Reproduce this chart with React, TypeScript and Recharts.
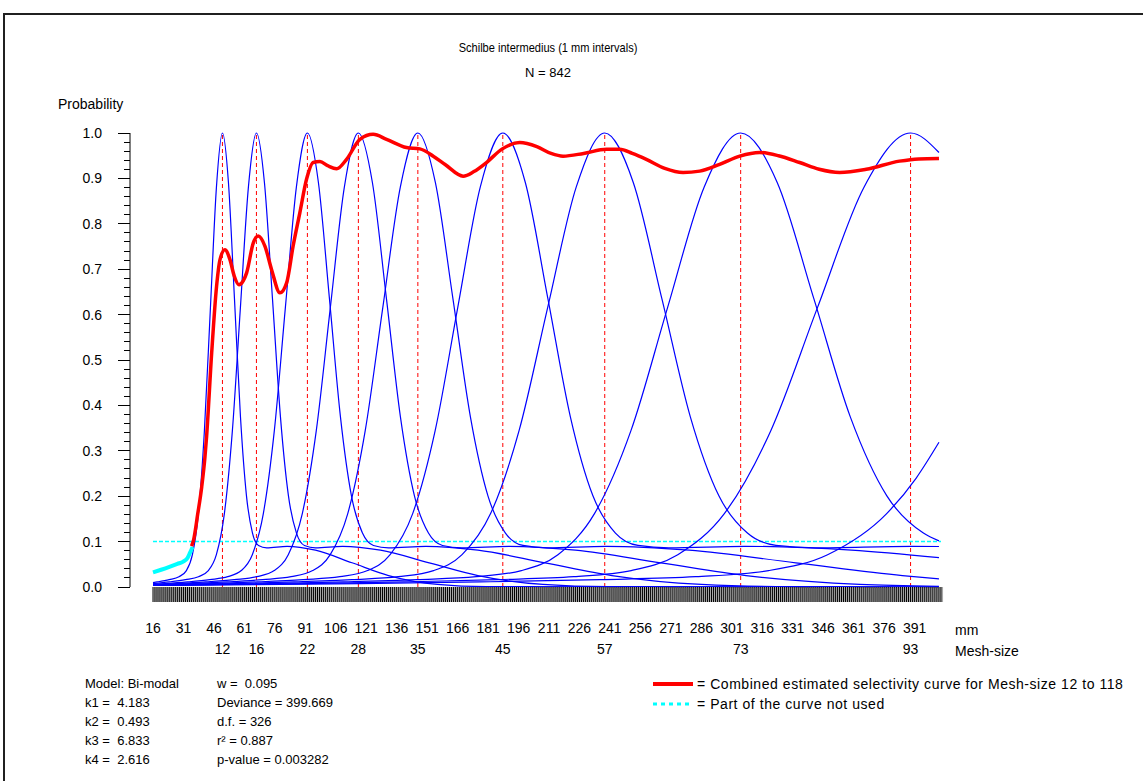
import React from 'react';
import { LineChart, Line, XAxis, YAxis, ReferenceLine } from 'recharts';

// fish length (mm) tick labels and mesh sizes
const lengthLabels = [16, 31, 46, 61, 76, 91, 106, 121, 136, 151, 166, 181, 196, 211, 226, 241, 256, 271, 286, 301, 316, 331, 346, 361, 376, 391];
const meshSizes = [12, 16, 22, 28, 35, 45, 57, 73, 93];
const meshModes = [50.2, 66.93, 92.03, 117.12, 146.41, 188.24, 238.43, 305.36, 389.02];

// one small tick per mm, plus the mesh-size label positions
const lengthTicks: number[] = [];
for (let v = 16; v <= 404; v++) lengthTicks.push(v);
const axisTicks = [...lengthTicks, ...meshModes];
const probTicks = [0, 0.02, 0.04, 0.06, 0.08, 0.1, 0.12, 0.14, 0.16, 0.18, 0.2, 0.22, 0.24, 0.26, 0.28, 0.3, 0.32, 0.34, 0.36, 0.38, 0.4, 0.42, 0.44, 0.46, 0.48, 0.5, 0.52, 0.54, 0.56, 0.58, 0.6, 0.62, 0.64, 0.66, 0.68, 0.7, 0.72, 0.74, 0.76, 0.78, 0.8, 0.82, 0.84, 0.86, 0.88, 0.9, 0.92, 0.94, 0.96, 0.98, 1.0];

// selectivity curve per mesh size: [length mm, probability]
const mesh12 = [[16, 0.0098], [18, 0.0112], [24, 0.0163], [28.8, 0.0227], [32.45, 0.0362], [35.41, 0.0712], [38.36, 0.1617], [41.32, 0.3449], [44.28, 0.6154], [47.24, 0.8807], [50.2, 1.0], [53.15, 0.891], [56.11, 0.6357], [59.07, 0.3748], [62.03, 0.2008], [64.99, 0.1188], [67.94, 0.0915], [72, 0.0862], [82, 0.0896], [96, 0.0811], [114, 0.0533], [132, 0.0252], [156, 0.0056], [180, 0.0007], [403, 0]];
const mesh16 = [[16, 0.0075], [24, 0.0112], [32, 0.0163], [38.4, 0.0227], [43.26, 0.0362], [47.21, 0.0712], [51.15, 0.1617], [55.1, 0.3449], [59.04, 0.6154], [62.98, 0.8807], [66.93, 1.0], [70.87, 0.891], [74.82, 0.6357], [78.76, 0.3748], [82.7, 0.2008], [86.65, 0.1188], [90.59, 0.0915], [96, 0.0862], [109.33, 0.0896], [128, 0.0811], [152, 0.0533], [176, 0.0252], [208, 0.0056], [240, 0.0007], [403, 0]];
const mesh22 = [[16, 0.0059], [22, 0.0075], [33, 0.0112], [44, 0.0163], [52.8, 0.0227], [59.49, 0.0362], [64.91, 0.0712], [70.33, 0.1617], [75.76, 0.3449], [81.18, 0.6154], [86.6, 0.8807], [92.03, 1.0], [97.45, 0.891], [102.87, 0.6357], [108.3, 0.3748], [113.72, 0.2008], [119.14, 0.1188], [124.56, 0.0915], [132, 0.0862], [150.33, 0.0896], [176, 0.0811], [209, 0.0533], [242, 0.0252], [286, 0.0056], [330, 0.0007], [403, 0]];
const mesh28 = [[16, 0.0051], [28, 0.0075], [42, 0.0112], [56, 0.0163], [67.2, 0.0227], [75.71, 0.0362], [82.61, 0.0712], [89.52, 0.1617], [96.42, 0.3449], [103.32, 0.6154], [110.22, 0.8807], [117.12, 1.0], [124.03, 0.891], [130.93, 0.6357], [137.83, 0.3748], [144.73, 0.2008], [151.63, 0.1188], [158.54, 0.0915], [168, 0.0862], [191.32, 0.0896], [224, 0.0811], [266, 0.0533], [308, 0.0252], [364, 0.0056], [403, 0.0014]];
const mesh35 = [[16, 0.0046], [35, 0.0075], [52.5, 0.0112], [70, 0.0163], [84, 0.0227], [94.64, 0.0362], [103.27, 0.0712], [111.9, 0.1617], [120.52, 0.3449], [129.15, 0.6154], [137.78, 0.8807], [146.41, 1.0], [155.03, 0.891], [163.66, 0.6357], [172.29, 0.3748], [180.92, 0.2008], [189.54, 0.1188], [198.17, 0.0915], [210, 0.0862], [239.16, 0.0896], [280, 0.0811], [332.5, 0.0533], [385, 0.0252], [403, 0.0181]];
const mesh45 = [[16, 0.0042], [45, 0.0075], [67.5, 0.0112], [90, 0.0163], [108, 0.0227], [121.68, 0.0362], [132.77, 0.0712], [143.87, 0.1617], [154.96, 0.3449], [166.05, 0.6154], [177.14, 0.8807], [188.24, 1.0], [199.33, 0.891], [210.42, 0.6357], [221.51, 0.3748], [232.61, 0.2008], [243.7, 0.1188], [254.79, 0.0915], [270, 0.0862], [307.49, 0.0896], [360, 0.0811], [403, 0.0645]];
const mesh57 = [[16, 0.0039], [57, 0.0075], [85.5, 0.0112], [114, 0.0163], [136.8, 0.0227], [154.13, 0.0362], [168.18, 0.0712], [182.23, 0.1617], [196.28, 0.3449], [210.33, 0.6154], [224.38, 0.8807], [238.43, 1.0], [252.48, 0.891], [266.53, 0.6357], [280.58, 0.3748], [294.63, 0.2008], [308.68, 0.1188], [322.73, 0.0915], [342, 0.0862], [389.48, 0.0896], [403, 0.0892]];
const mesh73 = [[16, 0.0037], [73, 0.0075], [109.5, 0.0112], [146, 0.0163], [175.2, 0.0227], [197.39, 0.0362], [215.39, 0.0712], [233.38, 0.1617], [251.38, 0.3449], [269.37, 0.6154], [287.36, 0.8807], [305.36, 1.0], [323.35, 0.891], [341.35, 0.6357], [359.34, 0.3748], [377.34, 0.2008], [395.33, 0.1188], [403, 0.1015]];
const mesh93 = [[16, 0.0035], [93, 0.0075], [139.5, 0.0112], [186, 0.0163], [223.2, 0.0227], [251.47, 0.0362], [274.4, 0.0712], [297.32, 0.1617], [320.25, 0.3449], [343.17, 0.6154], [366.09, 0.8807], [389.02, 1.0], [403, 0.957]];
const mesh118 = [[16, 0.0034], [118, 0.0075], [177, 0.0112], [236, 0.0163], [283.2, 0.0227], [319.07, 0.0362], [348.16, 0.0712], [377.25, 0.1617], [391.8, 0.24], [403, 0.3187]];
const meshCurves = [mesh12, mesh16, mesh22, mesh28, mesh35, mesh45, mesh57, mesh73, mesh93, mesh118];

// combined estimated selectivity curve
const combined = [[35, 0.09], [36, 0.104], [38, 0.16], [40, 0.221], [41.6, 0.287], [42.4, 0.332], [44.9, 0.516], [47.3, 0.662], [49, 0.721], [51.4, 0.743], [53.9, 0.721], [56, 0.685], [58.3, 0.666], [60.5, 0.675], [62.1, 0.692], [65.4, 0.758], [67.8, 0.773], [71.1, 0.751], [74.4, 0.699], [78.5, 0.648], [81.8, 0.67], [85, 0.751], [88.3, 0.824], [91.6, 0.898], [94.9, 0.935], [98.2, 0.937], [102, 0.928], [106.4, 0.921], [111.3, 0.942], [117.9, 0.986], [124.4, 0.997], [131, 0.986], [140.8, 0.968], [147.4, 0.965], [154, 0.949], [160, 0.93], [168.7, 0.905], [174, 0.915], [180.2, 0.935], [188, 0.965], [196.6, 0.979], [205, 0.97], [212, 0.955], [217.9, 0.949], [228, 0.955], [239.3, 0.964], [245.8, 0.964], [252, 0.955], [258.9, 0.942], [268, 0.922], [277, 0.913], [285.2, 0.916], [295, 0.931], [304.9, 0.949], [314.7, 0.957], [324, 0.95], [334.4, 0.935], [344, 0.92], [354.1, 0.913], [367.2, 0.92], [383.6, 0.938], [393, 0.943], [403, 0.944]];
// part of the curve not used
const notUsed = [[16, 0.032], [20, 0.038], [24.4, 0.045], [28, 0.051], [30.9, 0.056], [33, 0.064], [34.2, 0.075], [35.5, 0.088]];

const statsLeft = ['Model: Bi-modal', 'k1 =  4.183', 'k2 =  0.493', 'k3 =  6.833', 'k4 =  2.616'];
const statsRight = ['w =  0.095', 'Deviance = 399.669', 'd.f. = 326', 'r² = 0.887', 'p-value = 0.003282'];

const toPoints = (pairs: number[][]) => pairs.map(([x, y]) => ({ x, y }));

const font = '"Liberation Sans", Arial, sans-serif';

const LengthTick = (props: any) => {
	const { x, y, payload } = props;
	const v = payload.value;
	const meshIdx = meshModes.indexOf(v);
	if (meshIdx >= 0) {
		return (
			<text x={x} y={y + 67} textAnchor="middle" fontSize={14} fontFamily={font} fill="#000">
				{meshSizes[meshIdx]}
			</text>
		);
	}
	return (
		<g>
			<rect x={x + 0.5} y={y} width={1.55} height={15} fill="#a8a8a8" />
			<rect x={x - 0.5} y={y} width={1} height={15} fill="#000" />
			{lengthLabels.includes(v) && (
				<text x={x} y={y + 46} textAnchor="middle" fontSize={14} fontFamily={font} fill="#000">
					{v}
				</text>
			)}
		</g>
	);
};

const ProbTick = (props: any) => {
	const { x, y, payload } = props;
	const v = payload.value;
	const major = Math.round(v * 100) % 10 === 0;
	return (
		<g>
			<line x1={major ? x - 12 : x - 6} x2={x} y1={y} y2={y} stroke="#000" strokeWidth={1} shapeRendering="crispEdges" />
			{major && (
				<text x={x - 28} y={y + 5} textAnchor="end" fontSize={14} fontFamily={font} fill="#000">
					{v.toFixed(1)}
				</text>
			)}
		</g>
	);
};

const textStyle: React.CSSProperties = { position: 'absolute', fontFamily: font, fontSize: 14, color: '#000', whiteSpace: 'pre', lineHeight: '16px' };

export default function App() {
	return (
		<div style={{ position: 'absolute', left: 0, top: 0, width: 1143, height: 781, background: '#fff', overflow: 'hidden' }}>
			<div style={{ position: 'absolute', left: 3, top: 13, width: 1300, height: 1000, border: '2px solid #202020' }} />

			<div style={{ ...textStyle, fontSize: 13, left: 0, width: 1096, top: 40, textAlign: 'center', transform: 'scaleX(0.85)' }}>
				Schilbe intermedius (1 mm intervals)
			</div>
			<div style={{ ...textStyle, fontSize: 13, left: 0, width: 1096, top: 65, textAlign: 'center' }}>N = 842</div>
			<div style={{ ...textStyle, left: 58, top: 96 }}>Probability</div>

			<div style={{ position: 'absolute', left: 0, top: 0 }}>
				<LineChart width={1143} height={660} margin={{ top: 133, right: 202, bottom: 3, left: 0 }}>
					<XAxis
						type="number"
						dataKey="x"
						domain={[4.68, 404]}
						ticks={axisTicks}
						interval={0}
						tickSize={0}
						tickMargin={0}
						axisLine={false}
						tickLine={false}
						height={70}
						tick={<LengthTick />}
						allowDataOverflow
					/>
					<YAxis
						type="number"
						domain={[0, 1]}
						ticks={probTicks}
						interval={0}
						width={130}
						tickSize={0}
						tickMargin={0}
						tickLine={false}
						axisLine={{ stroke: '#000', strokeWidth: 1 }}
						tick={<ProbTick />}
					/>
					{meshModes.map((m) => (
						<ReferenceLine key={m} x={m} stroke="#ff0000" strokeWidth={1} strokeDasharray="4 3" />
					))}
					<ReferenceLine
						segment={[
							{ x: 16, y: 0.1 },
							{ x: 404, y: 0.1 },
						]}
						stroke="#00ffff"
						strokeWidth={1.5}
						strokeDasharray="4 2"
					/>
					{meshCurves.map((c, i) => (
						<Line
							key={i}
							data={toPoints(c)}
							dataKey="y"
							type="monotone"
							stroke="#0000ff"
							strokeWidth={1.2}
							dot={false}
							activeDot={false}
							isAnimationActive={false}
						/>
					))}
					<Line data={toPoints(notUsed)} dataKey="y" type="monotone" stroke="#00ffff" strokeWidth={4} dot={false} activeDot={false} isAnimationActive={false} />
					<Line data={toPoints(combined)} dataKey="y" type="monotone" stroke="#ff0000" strokeWidth={3.5} dot={false} activeDot={false} isAnimationActive={false} />
				</LineChart>
			</div>

			<div style={{ ...textStyle, left: 955, top: 622 }}>mm</div>
			<div style={{ ...textStyle, left: 955, top: 643 }}>Mesh-size</div>

			{statsLeft.map((s, i) => (
				<div key={s} style={{ ...textStyle, fontSize: 13, left: 85, top: 676 + i * 19 }}>{s}</div>
			))}
			{statsRight.map((s, i) => (
				<div key={s} style={{ ...textStyle, fontSize: 13, left: 217, top: 676 + i * 19 }}>{s}</div>
			))}

			<svg style={{ position: 'absolute', left: 0, top: 0 }} width={1143} height={781}>
				<line x1={653} x2={693} y1={684} y2={684} stroke="#ff0000" strokeWidth={4} />
				<line x1={653} x2={693} y1={704} y2={704} stroke="#00ffff" strokeWidth={3} strokeDasharray="4 4" />
			</svg>
			<div style={{ ...textStyle, left: 697, top: 676, letterSpacing: 0.55 }}>= Combined estimated selectivity curve for Mesh-size 12 to 118</div>
			<div style={{ ...textStyle, left: 697, top: 696, letterSpacing: 0.55 }}>= Part of the curve not used</div>
		</div>
	);
}
